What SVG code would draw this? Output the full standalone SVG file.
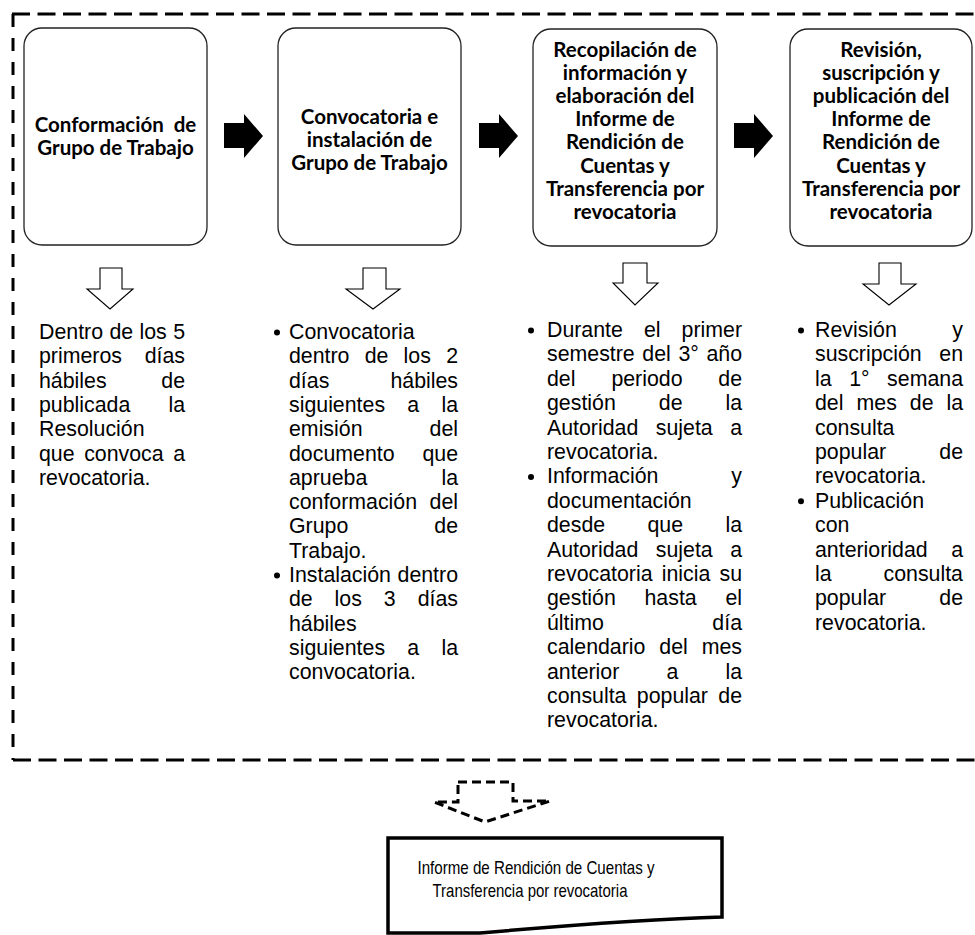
<svg xmlns="http://www.w3.org/2000/svg" width="975" height="935" viewBox="0 0 975 935">
<style>
.t{font-family:"Liberation Sans",Arial,sans-serif;font-size:21.33px;fill:#000}
.e{text-anchor:end}
.b{font-family:Lato,"Open Sans",sans-serif;font-weight:700;font-size:20.5px;text-anchor:middle;fill:#000}
.s{font-family:"Liberation Sans",Arial,sans-serif;font-size:18.5px;text-anchor:middle;fill:#000}
.box{fill:#fff;stroke:#222;stroke-width:1.3}
.ha{fill:#fff;stroke:#000;stroke-width:1.1}
.blk{fill:#000}
.bd{fill:none;stroke:#000;stroke-width:3}
</style>
<g id="frame" class="bd">
<path d="M12,14 H975" stroke-dasharray="18 7.5"/>
<path d="M13,14 V760" stroke-dasharray="13 11"/>
<path d="M13,760 H975" stroke-dasharray="18 7.5"/>
</g>
<g id="connectors">
<path class="blk" d="M224,123 H244 V114 L263,136 L244,158 V148 H224 Z"/>
<path class="blk" d="M224,123 H244 V114 L263,136 L244,158 V148 H224 Z" transform="translate(255,0)"/>
<path class="blk" d="M224,123 H244 V114 L263,136 L244,158 V148 H224 Z" transform="translate(510,0)"/>
<path class="ha" d="M100,268 H122 V289 H133 L110,309 L87,289 H100 Z"/>
<path class="ha" d="M363,268 H386 V289 H400 L373,309 L346,289 H363 Z"/>
<path class="ha" d="M623,263 H647 V283 H658 L635,305 L613,283 H623 Z"/>
<path class="ha" d="M879,263 H901 V284 H916 L889,305 L863,284 H879 Z"/>
<path d="M458,782 H513 V801 H550 L485,822 L434,802 H458 Z" fill="#fff" stroke="#000" stroke-width="3" stroke-dasharray="9 5"/>
</g>
<g id="box1">
<rect class="box" x="24" y="28" width="183" height="217" rx="18"/>
<text class="b" x="115.5" y="131.5" xml:space="preserve">Conformación  de</text>
<text class="b" x="115.5" y="154.5">Grupo de Trabajo</text>
</g>
<g id="box2">
<rect class="box" x="278" y="28" width="183" height="217" rx="18"/>
<text class="b" x="369.5" y="124">Convocatoria e</text>
<text class="b" x="369.5" y="147">instalación de</text>
<text class="b" x="369.5" y="170">Grupo de Trabajo</text>
</g>
<g id="box3">
<rect class="box" x="533" y="29" width="184" height="217" rx="18"/>
<text class="b" x="625" y="57">Recopilación de</text>
<text class="b" x="625" y="80.1">información y</text>
<text class="b" x="625" y="103.2">elaboración del</text>
<text class="b" x="625" y="126.3">Informe de</text>
<text class="b" x="625" y="149.4">Rendición de</text>
<text class="b" x="625" y="172.5">Cuentas y</text>
<text class="b" x="625" y="195.6">Transferencia por</text>
<text class="b" x="625" y="218.7">revocatoria</text>
</g>
<g id="box4">
<rect class="box" x="790" y="29" width="182" height="217" rx="18"/>
<text class="b" x="881" y="57">Revisión,</text>
<text class="b" x="881" y="80.1">suscripción y</text>
<text class="b" x="881" y="103.2">publicación del</text>
<text class="b" x="881" y="126.3">Informe de</text>
<text class="b" x="881" y="149.4">Rendición de</text>
<text class="b" x="881" y="172.5">Cuentas y</text>
<text class="b" x="881" y="195.6">Transferencia por</text>
<text class="b" x="881" y="218.7">revocatoria</text>
</g>
<g id="col1" class="t">
<text y="339"><tspan x="39">Dentro</tspan><tspan x="109.4">de</tspan><tspan x="139.5">los</tspan></text><text class="e" x="185" y="339">5</text>
<text x="39" y="363.3">primeros</text><text class="e" x="185" y="363.3">días</text>
<text x="39" y="387.6">hábiles</text><text class="e" x="185" y="387.6">de</text>
<text x="39" y="411.9">publicada</text><text class="e" x="185" y="411.9">la</text>
<text x="39" y="436.2">Resolución</text>
<text y="460.5"><tspan x="39">que</tspan><tspan x="84.2">convoca</tspan></text><text class="e" x="185" y="460.5">a</text>
<text x="39" y="484.8">revocatoria.</text>
</g>
<g id="col2" class="t">
<circle cx="277" cy="332.5" r="3"/>
<text x="289" y="339">Convocatoria</text>
<text y="363.3"><tspan x="289">dentro</tspan><tspan x="364.7">de</tspan><tspan x="403.6">los</tspan></text><text class="e" x="458" y="363.3">2</text>
<text x="289" y="387.6">días</text><text class="e" x="458" y="387.6">hábiles</text>
<text y="411.9"><tspan x="289">siguientes</tspan><tspan x="407.3">a</tspan></text><text class="e" x="458" y="411.9">la</text>
<text x="289" y="436.2">emisión</text><text class="e" x="458" y="436.2">del</text>
<text x="289" y="460.5">documento</text><text class="e" x="458" y="460.5">que</text>
<text x="289" y="484.8">aprueba</text><text class="e" x="458" y="484.8">la</text>
<text x="289" y="509.1">conformación</text><text class="e" x="458" y="509.1">del</text>
<text x="289" y="533.4">Grupo</text><text class="e" x="458" y="533.4">de</text>
<text x="289" y="557.7">Trabajo.</text>
<circle cx="277" cy="575.5" r="3"/>
<text x="289" y="582">Instalación</text><text class="e" x="458" y="582">dentro</text>
<text y="606.3"><tspan x="289">de</tspan><tspan x="334.6">los</tspan><tspan x="383.8">3</tspan></text><text class="e" x="458" y="606.3">días</text>
<text x="289" y="630.6">hábiles</text>
<text y="654.9"><tspan x="289">siguientes</tspan><tspan x="407.3">a</tspan></text><text class="e" x="458" y="654.9">la</text>
<text x="289" y="679.2">convocatoria.</text>
</g>
<g id="col3" class="t">
<circle cx="531" cy="330.5" r="3"/>
<text y="337"><tspan x="547">Durante</tspan><tspan x="644">el</tspan></text><text class="e" x="742" y="337">primer</text>
<text y="361.4"><tspan x="547">semestre</tspan><tspan x="642.3">del</tspan><tspan x="678.4">3°</tspan></text><text class="e" x="742" y="361.4">año</text>
<text y="385.8"><tspan x="547">del</tspan><tspan x="611.4">periodo</tspan></text><text class="e" x="742" y="385.8">de</text>
<text y="410.2"><tspan x="547">gestión</tspan><tspan x="658.8">de</tspan></text><text class="e" x="742" y="410.2">la</text>
<text y="434.6"><tspan x="547">Autoridad</tspan><tspan x="655.8">sujeta</tspan></text><text class="e" x="742" y="434.6">a</text>
<text x="547" y="459">revocatoria.</text>
<circle cx="531" cy="476.9" r="3"/>
<text x="547" y="483.4">Información</text><text class="e" x="742" y="483.4">y</text>
<text x="547" y="507.8">documentación</text>
<text y="532.2"><tspan x="547">desde</tspan><tspan x="647.5">que</tspan></text><text class="e" x="742" y="532.2">la</text>
<text y="556.6"><tspan x="547">Autoridad</tspan><tspan x="655.8">sujeta</tspan></text><text class="e" x="742" y="556.6">a</text>
<text y="581"><tspan x="547">revocatoria</tspan><tspan x="661.7">inicia</tspan></text><text class="e" x="742" y="581">su</text>
<text y="605.4"><tspan x="547">gestión</tspan><tspan x="644.5">hasta</tspan></text><text class="e" x="742" y="605.4">el</text>
<text x="547" y="629.8">último</text><text class="e" x="742" y="629.8">día</text>
<text y="654.2"><tspan x="547">calendario</tspan><tspan x="659.3">del</tspan></text><text class="e" x="742" y="654.2">mes</text>
<text y="678.6"><tspan x="547">anterior</tspan><tspan x="666.4">a</tspan></text><text class="e" x="742" y="678.6">la</text>
<text y="703"><tspan x="547">consulta</tspan><tspan x="636.8">popular</tspan></text><text class="e" x="742" y="703">de</text>
<text x="547" y="727.4">revocatoria.</text>
</g>
<g id="col4" class="t">
<circle cx="801" cy="330.5" r="3"/>
<text x="815" y="337">Revisión</text><text class="e" x="963" y="337">y</text>
<text x="815" y="361.4">suscripción</text><text class="e" x="963" y="361.4">en</text>
<text y="385.8"><tspan x="815">la</tspan><tspan x="849.2">1°</tspan></text><text class="e" x="963" y="385.8">semana</text>
<text y="410.2"><tspan x="815">del</tspan><tspan x="856.5">mes</tspan><tspan x="909.8">de</tspan></text><text class="e" x="963" y="410.2">la</text>
<text x="815" y="434.6">consulta</text>
<text x="815" y="459">popular</text><text class="e" x="963" y="459">de</text>
<text x="815" y="483.4">revocatoria.</text>
<circle cx="801" cy="501.3" r="3"/>
<text x="815" y="507.8">Publicación</text>
<text x="815" y="532.2">con</text>
<text x="815" y="556.6">anterioridad</text><text class="e" x="963" y="556.6">a</text>
<text x="815" y="581">la</text><text class="e" x="963" y="581">consulta</text>
<text x="815" y="605.4">popular</text><text class="e" x="963" y="605.4">de</text>
<text x="815" y="629.8">revocatoria.</text>
</g>
<g id="result">
<path d="M388,838 H722 V917 C650,919 560,926 480,933 L388,933 Z" fill="#fff" stroke="#000" stroke-width="3.5"/>
<text class="s" x="536" y="874" textLength="237" lengthAdjust="spacingAndGlyphs">Informe de Rendición de Cuentas y</text>
<text class="s" x="530" y="897" textLength="195" lengthAdjust="spacingAndGlyphs">Transferencia por revocatoria</text>
</g>
</svg>
